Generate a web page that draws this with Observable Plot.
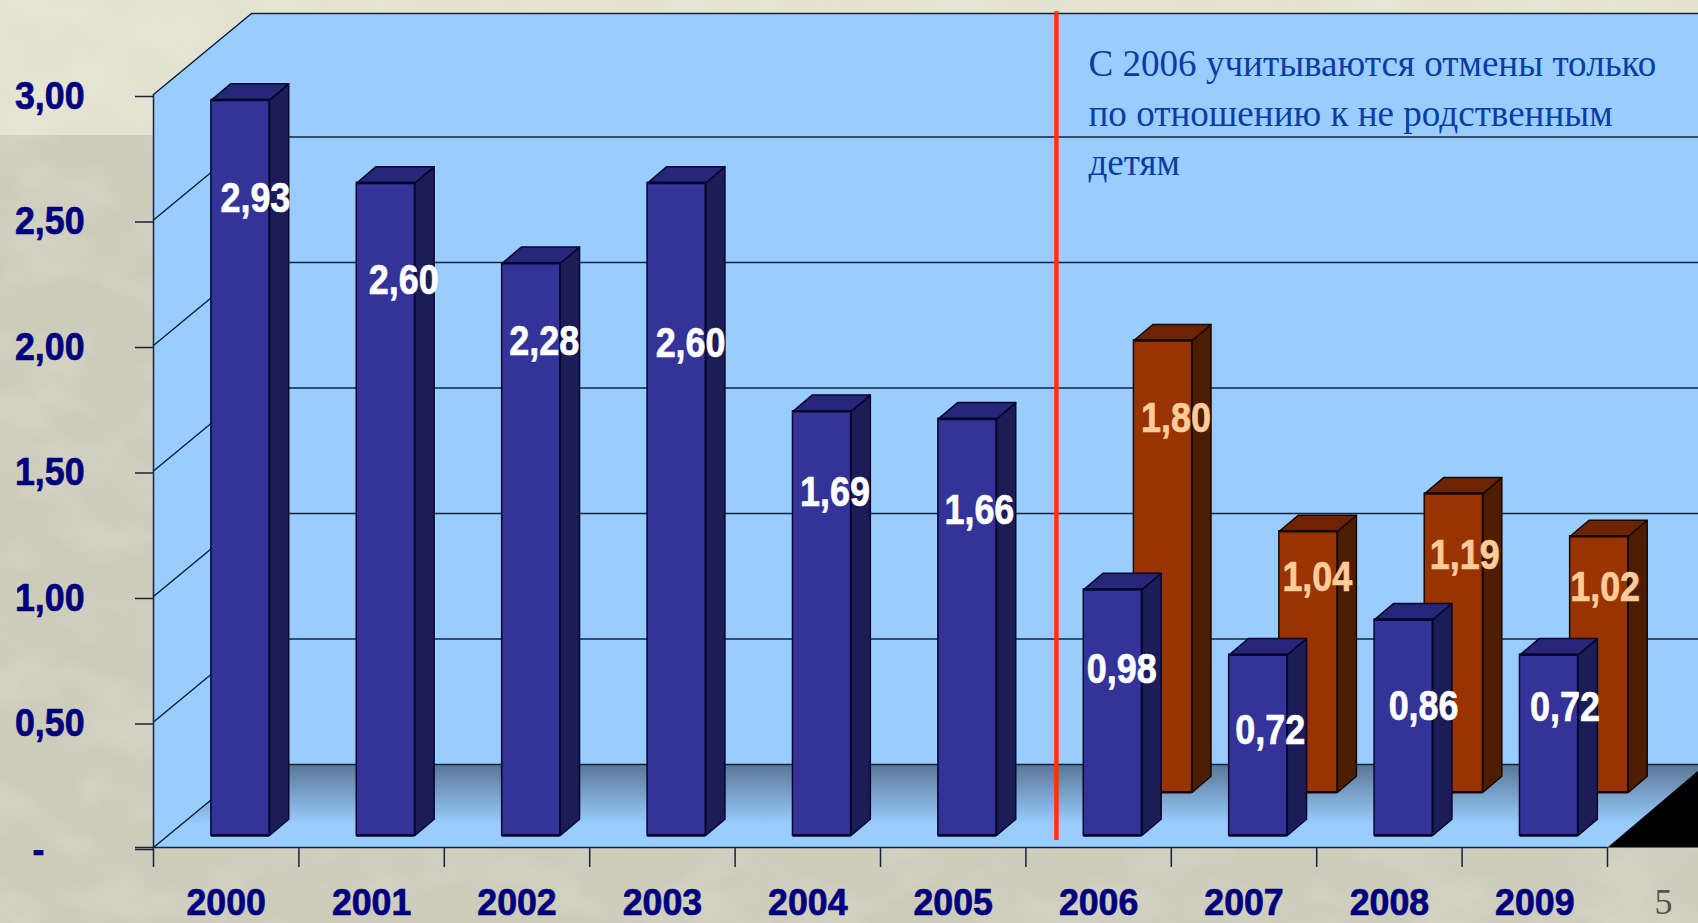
<!DOCTYPE html>
<html>
<head>
<meta charset="utf-8">
<script src="https://cdn.jsdelivr.net/npm/d3@7"></script>
<script src="https://cdn.jsdelivr.net/npm/@observablehq/plot@0.6"></script>
<style>
html,body{margin:0;padding:0;width:1698px;height:923px;overflow:hidden;
background-color:#cfcebd;}
#tex{position:absolute;left:0;top:0;width:1698px;height:923px;}
#chart{position:absolute;left:0;top:0;}
</style>
</head>
<body>
<svg id="tex" width="1698" height="923">
  <defs>
    <filter id="mott" x="0" y="0" width="100%" height="100%">
      <feTurbulence type="fractalNoise" baseFrequency="0.012 0.018" numOctaves="4" seed="7"/>
      <feColorMatrix type="matrix" values="0 0 0 0 1  0 0 0 0 1  0 0 0 0 0.93  1.6 0 0 0 -0.62"/>
    </filter>
  </defs>
  <rect width="1698" height="135" fill="#e3e2d0"/>
  <rect y="135" width="1698" height="788" fill="#cdccbb"/>
  <rect width="1698" height="923" filter="url(#mott)" opacity="0.22"/>
</svg>
<div id="chart"></div>
<script>
const years = ["2000","2001","2002","2003","2004","2005","2006","2007","2008","2009"];
const blueValues = [2.93,2.60,2.28,2.60,1.69,1.66,0.98,0.72,0.86,0.72];
const brownYears = ["2006","2007","2008","2009"];
const brownValues = [1.80,1.04,1.19,1.02];
const yTicks = [0,0.5,1,1.5,2,2.5,3];
const note = ["С 2006 учитываются отмены только","по отношению к не родственным","детям"];

// Label placement offsets, px from the bar's top-left corner
const blueLabelDx = [44,47,42,43,42,41,38,41,49,45];
const blueLabelDrop = [98,98,78,161,81,92,80,76,87,53];
const brownLabelDx = [42,38,40,35];
const brownLabelDrop = [78,46,62,51];

const pxX = 145.4, pxY = 251;
const depthX = 98/pxX, depthY = 83/pxY, topDepthY = 81/pxY;
const wallEnd = 10.7;
const fmt = v => v.toFixed(2).replace(".", ",");
const labelFont = "'Liberation Sans',sans-serif";

const blueFront = 0.144, blueBack = 0.34, blueLeft = 0.398;
const brownFront = 0.665, brownBack = 0.858, brownLeft = 0.743;
const barW = 0.4;

function bars(cats, vals, idx, left, d0, d1) {
  return cats.map((c, k) => {
    const i = idx(k), v = vals[k];
    const x1 = i + left, x2 = x1 + barW;
    const sx = (d1 - d0) * depthX, sy = (d1 - d0) * depthY;
    const y0 = d0 * depthY, y1 = v + y0;
    return {c, i, v, x1, x2, y0, y1, sx, sy};
  });
}
const blue = bars(years, blueValues, k => k, blueLeft, blueFront, blueBack);
const brown = bars(brownYears, brownValues, k => k + 6, brownLeft, brownFront, brownBack);

const sidePts = rows => rows.flatMap(b => [
  {id:b.c, x:b.x2, y:b.y0}, {id:b.c, x:b.x2+b.sx, y:b.y0+b.sy},
  {id:b.c, x:b.x2+b.sx, y:b.y1+b.sy}, {id:b.c, x:b.x2, y:b.y1}]);
const capPts = rows => rows.flatMap(b => [
  {id:b.c, x:b.x1, y:b.y1}, {id:b.c, x:b.x1+b.sx, y:b.y1+b.sy},
  {id:b.c, x:b.x2+b.sx, y:b.y1+b.sy}, {id:b.c, x:b.x2, y:b.y1}]);

const poly = (pts, o) => Plot.line(pts, {x:"x", y:"y", z:"id", curve:"linear-closed", ...o});
const barMarks = (rows, front, side, cap, edge) => [
  poly(sidePts(rows), {fill:side, stroke:edge, strokeWidth:1.5}),
  poly(capPts(rows), {fill:cap, stroke:edge, strokeWidth:1.5}),
  Plot.rect(rows, {x1:"x1", x2:"x2", y1:"y0", y2:"y1", fill:front, stroke:edge, strokeWidth:1.5}),
  Plot.ruleY(rows, {x1:"x1", x2:"x2", y:"y1", stroke:edge, strokeWidth:2.5}),
  Plot.ruleY(rows, {x1:"x1", x2:"x2", y:"y0", stroke:edge, strokeWidth:2.5})
];
const valueLabels = (rows, dx, drop, fill) => Plot.text(rows, {
  x:(b,k) => b.x1 + dx[k]/pxX,
  y:(b,k) => b.y1 - drop[k]/pxY,
  text:b => fmt(b.v), fill,
  fontFamily:labelFont, fontWeight:"bold", fontSize:42
});

const defs = () => {
  const s = d3.create("svg:defs");
  const g = s.append("linearGradient").attr("id","floorGrad").attr("x1",0).attr("x2",0).attr("y1",0).attr("y2",1);
  g.append("stop").attr("offset","0%").attr("stop-color","#5a7796");
  g.append("stop").attr("offset","72%").attr("stop-color","#99ccff");
  return s.node();
};

const plot = Plot.plot({
  width:1698, height:923,
  marginLeft:153, marginRight:91, marginTop:94, marginBottom:76,
  style:{background:"transparent", overflow:"hidden"},
  x:{domain:[0,10]},
  y:{domain:[0,3]},
  marks:[
    defs,
    // walls and floor
    poly([{id:"l",x:0,y:0},{id:"l",x:0,y:3},{id:"l",x:depthX,y:3+topDepthY},{id:"l",x:wallEnd,y:3+topDepthY},{id:"l",x:wallEnd,y:0}],{fill:"#99ccff"}),
    poly([{id:"f",x:0,y:0},{id:"f",x:depthX,y:depthY},{id:"f",x:wallEnd+depthX,y:depthY},{id:"f",x:10,y:0}],{fill:"url(#floorGrad)"}),
    poly([{id:"k",x:10,y:0},{id:"k",x:10+depthX,y:depthY},{id:"k",x:11,y:depthY},{id:"k",x:11,y:0}],{fill:"#000"}),
    // wall grid
    Plot.ruleY(yTicks.slice(0,-1),{x1:depthX,x2:wallEnd,y:v=>v+depthY,stroke:"#14233c",strokeWidth:1.5}),
    Plot.ruleY([3],{x1:depthX,x2:wallEnd,y:v=>v+topDepthY,stroke:"#14233c",strokeWidth:1.5}),
    Plot.line(yTicks.flatMap(v=>[{v,x:0,y:v},{v,x:depthX,y:v+topDepthY}]),{x:"x",y:"y",z:"v",stroke:"#10203a",strokeWidth:1.5}),
    Plot.ruleX([0],{y1:0,y2:3,stroke:"#14233c",strokeWidth:1.5}),
    // axes
    Plot.axisY(yTicks,{anchor:"left",tickSize:18,tickPadding:51,label:null,dy:2,
      tickFormat:v=>v===0?"":fmt(v),fontSize:38,fontWeight:"bold",fontFamily:labelFont,fill:"#00007f",stroke:"#14233c",strokeWidth:1.5}),
    Plot.axisX(d3.range(11),{anchor:"bottom",tickSize:20,tickPadding:0,label:null,tickFormat:()=>"",stroke:"#14233c",strokeWidth:1.5}),
    Plot.ruleY([0],{x1:-18/pxX,x2:10,stroke:"#14233c",strokeWidth:1.5}),
    Plot.text(["-"],{x:()=>-115/pxX,y:()=>0,text:d=>d,dy:3,fontSize:38,fontWeight:"bold",fontFamily:labelFont,fill:"#00007f"}),
    Plot.text(years,{x:(d,i)=>i+0.5,y:()=>0,dy:56,text:d=>d,fontSize:37,fontWeight:"bold",fontFamily:labelFont,fill:"#00007f"}),
    // bars
    ...barMarks(brown,"#993300","#4d1d00","#6e2400","#170800"),
    ...barMarks(blue,"#333399","#1c1c58","#26267a","#06062a"),
    // separator
    Plot.ruleX([6.21],{y1:0.028,y2:3.33,stroke:"#ff3300",strokeWidth:4.5}),
    // labels
    valueLabels(blue,blueLabelDx,blueLabelDrop,"#ffffff"),
    valueLabels(brown,brownLabelDx,brownLabelDrop,"#ffcc99"),
    Plot.text(note,{x:()=>(1088-153)/pxX,y:(d,i)=>(847-64-i*49.5)/pxY,text:d=>d,textAnchor:"start",
      fontFamily:"'Liberation Serif',serif",fontSize:37.1,fill:"#0a3da3"}),
    Plot.text(["5"],{x:()=>(1663-153)/pxX,y:()=>0,dy:55,text:d=>d,fontFamily:"'Liberation Serif',serif",fontSize:36,fill:"#55544c"})
  ]
});
document.getElementById("chart").append(plot);

// Condense the bold sans labels to the narrow, tall look of the reference
const squeeze = {"42":0.855,"38":0.94,"37":0.965};
plot.querySelectorAll("text").forEach(t => {
  const g = t.closest("[font-size]");
  const f = g && squeeze[g.getAttribute("font-size")];
  if (f && t.textContent) {
    t.setAttribute("textLength", t.getComputedTextLength()*f);
    t.setAttribute("lengthAdjust","spacingAndGlyphs");
    t.style.stroke = getComputedStyle(t).fill;
    t.style.strokeWidth = "0.7px";
    t.style.strokeLinejoin = "round";
  }
});
</script>
</body>
</html>
